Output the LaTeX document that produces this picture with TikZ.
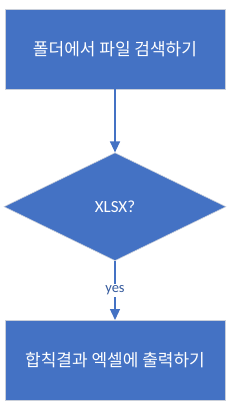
\documentclass[tikz,border=0pt]{standalone}
\usepackage{fontspec}
\setmainfont{Carlito}
\newfontfamily\kofont{Noto Sans CJK KR}
\usetikzlibrary{arrows.meta, positioning, shapes.geometric}
\definecolor{flowblue}{HTML}{4472C4}
\definecolor{edgegray}{HTML}{C9CFDA}

\begin{document}
\begin{tikzpicture}[x=1pt, y=-1pt, node distance=63pt,
    stepbox/.style={rectangle, fill=flowblue, draw=edgegray, line width=0.8pt,
        minimum width=220pt, minimum height=80pt, inner sep=0pt,
        text=white, font=\kofont\fontsize{17pt}{19pt}\selectfont},
    decision/.style={diamond, fill=flowblue, draw=edgegray, line width=0.6pt,
        minimum width=222pt, minimum height=108pt, inner sep=0pt,
        text=white, font=\fontsize{17pt}{19pt}\selectfont},
    flow/.style={draw=flowblue, line width=1.3pt, -{Triangle[length=11pt, width=10pt]}}]
    \useasboundingbox (0,0) rectangle (230,409);
    \node[stepbox] (search) at (115,49) {폴더에서 파일 검색하기};
    \node[decision, below=63pt of search] (xlsx) {XLSX?};
    \node[stepbox, below=59pt of xlsx] (output) {합칙결과 엑셀에 출력하기};
    \draw[flow] (search) -- (xlsx);
    \draw[flow] (xlsx) -- node[fill=white, text=flowblue!80!black, inner sep=1.5pt,
        font=\fontsize{14.5pt}{16pt}\selectfont] (yes) {yes} (output);
\end{tikzpicture}
\end{document}
